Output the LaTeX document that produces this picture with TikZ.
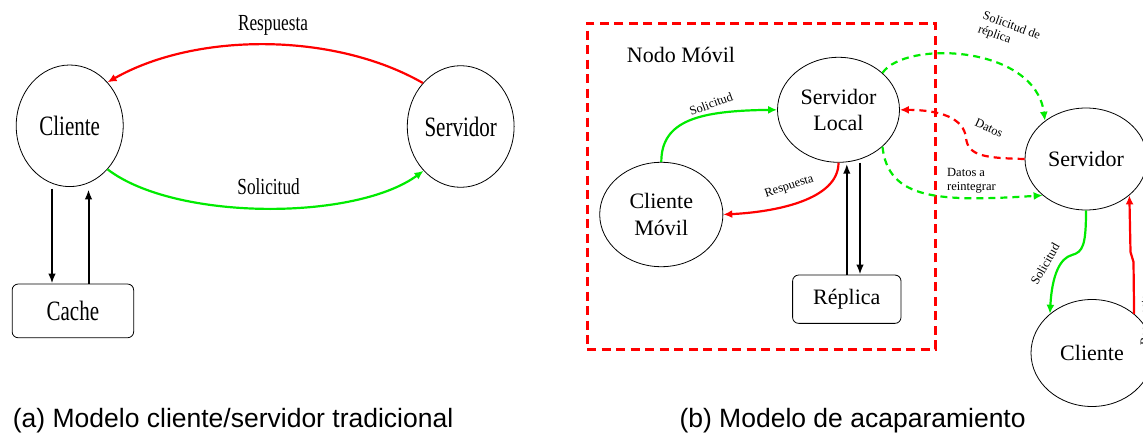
\documentclass[tikz,border=0pt]{standalone}
\usepackage{fontspec}
\setmainfont{Liberation Serif}
\newfontfamily\tightserif[FakeStretch=0.75]{Liberation Serif}
\newfontfamily\capfont{Liberation Sans}
\usetikzlibrary{arrows.meta,shapes.geometric,calc}

\definecolor{lnred}{RGB}{255,0,0}
\definecolor{lngreen}{RGB}{0,235,0}

\begin{document}
\begin{tikzpicture}[x=1pt,y=-1pt,
  oval/.style={draw, ellipse, line width=0.8pt, inner sep=0pt, align=center},
  store/.style={draw, rounded corners=6pt, line width=0.8pt, inner sep=0pt},
  bigtxt/.style={font=\tightserif\fontsize{28}{30}\selectfont},
  bigl/.style={font=\tightserif\fontsize{23}{25}\selectfont, inner sep=0pt},
  nodetxt/.style={font=\fontsize{22}{26.5}\selectfont},
  small/.style={font=\fontsize{12.5}{14}\selectfont, inner sep=0pt},
  flow/.style={line width=2.2pt, -{Latex[length=9pt,width=8pt]}},
  blkflow/.style={line width=2pt, -{Latex[length=10pt,width=7.5pt]}},
  dflow/.style={flow, dash pattern=on 7pt off 5pt},
  frame/.style={draw=lnred, line width=3pt, dash pattern=on 9pt off 5.5pt, inner sep=0pt},
  caption/.style={font=\capfont\fontsize{26.5}{30}\selectfont, inner sep=0pt, anchor=base west},
 ]
\useasboundingbox (0,0) rectangle (1143,433);
\clip (0,0) rectangle (1143,433);

% ---------- (a) classic client/server ----------
\node[oval, bigtxt, minimum width=107pt, minimum height=121.6pt] (cl) at (69.7,125.8) {Cliente};
\node[oval, bigtxt, minimum width=106.8pt, minimum height=121.6pt] (sv) at (460.7,126.5) {Servidor};
\node[store, bigtxt, minimum width=121.5pt, minimum height=53.7pt] (ca) at (72.9,310.9) {Cache};

\coordinate (dn) at ([xshift=-20.9pt]ca.north);
\coordinate (upc) at ([xshift=15.6pt]ca.north);
\draw[blkflow] ($(dn |- cl.south)+(0,1.6)$) -- (dn);
\draw[blkflow] (upc) -- ($(upc |- cl.south)+(0,2.3)$);

\draw[flow, lnred] (sv.131) .. controls (334,32) and (196,32) .. (cl.49);
\draw[flow, lngreen] (cl.-49) .. controls (175,221) and (355,221) .. (sv.230);
\node[bigl, anchor=base] (la1) at (273,30.7) {Respuesta};
\node[bigl, anchor=base] (la2) at (268.6,194) {Solicitud};

% ---------- (b) hoarding model ----------
\node[frame, minimum width=348.1pt, minimum height=326pt] (mov) at (761.25,186.3) {};
\node[nodetxt, inner sep=0pt] (movt) at (681,55) {Nodo Móvil};

\node[oval, nodetxt, minimum width=122pt, minimum height=105pt] (sl) at (838.5,109.8) {Servidor\\Local};
\node[oval, nodetxt, minimum width=123.2pt, minimum height=104.4pt] (cm) at (661.3,214.5) {Cliente\\Móvil};
\node[oval, nodetxt, minimum width=122pt, minimum height=102pt] (sr) at (1086,159) {Servidor};
\node[oval, nodetxt, minimum width=122pt, minimum height=107pt] (cr) at (1092,353) {Cliente};
\node[store, nodetxt, minimum width=108.4pt, minimum height=48.3pt] (rp) at (846.8,299.2) {Réplica};

% local client <-> local server
\draw[flow, lngreen] (cm.north) .. controls (661.3,120) and (700,110.7) .. (sl.west);
\draw[flow, lnred] (sl.south) .. controls (838.5,200) and (775,212) .. (cm.east);
\node[small, rotate=20] (lb1) at (711,104) {Solicitud};
\node[small, rotate=18] (lb2) at (789.3,186.7) {Respuesta};

% local server <-> replica
\coordinate (rdn) at ([xshift=13.2pt]rp.north);
\draw[blkflow] (rp.north) -- ($(rp.north |- sl.south)+(0,1)$);
\draw[blkflow] (rdn |- sl.south) -- (rdn);

% local server <-> remote server
\draw[dflow, lngreen] (sl.40) .. controls (905,40) and (1035,45) .. (sr.137);
\draw[dflow, lnred] (sr.west) .. controls (985,158) and (968,156) .. (966,138)
   .. controls (964,118) and (940,110) .. (sl.east);
\draw[dflow, lngreen] (sl.-40) .. controls (888,200) and (940,202) .. (sr.220);
\node[small, rotate=-20, align=left] (lb3) at (1009,33) {Solicitud de\\réplica};
\node[small, rotate=-25] (lb4) at (989,128) {Datos};
\node[small, anchor=west, align=left] (lb5) at (947,181) {Datos a\\reintegrar};

% remote server <-> remote client
\draw[flow, lngreen] (sr.south) .. controls (1086,245) and (1083,252) .. (1072,255)
   .. controls (1060,258) and (1052,275) .. (cr.137);
\draw[flow, lnred] (cr.43) -- (1133.5,262) -- (1130.5,252) -- (sr.-40);
\node[small, rotate=60] (lb6) at (1045,264) {Solicitud};
\node[small, rotate=90] (lb7) at (1146,320) {Respuesta};

% captions
\node[caption] (capa) at (12.7,427) {(a) Modelo cliente/servidor tradicional};
\node[caption] (capb) at (679.3,427) {(b) Modelo de acaparamiento};
\end{tikzpicture}
\end{document}
